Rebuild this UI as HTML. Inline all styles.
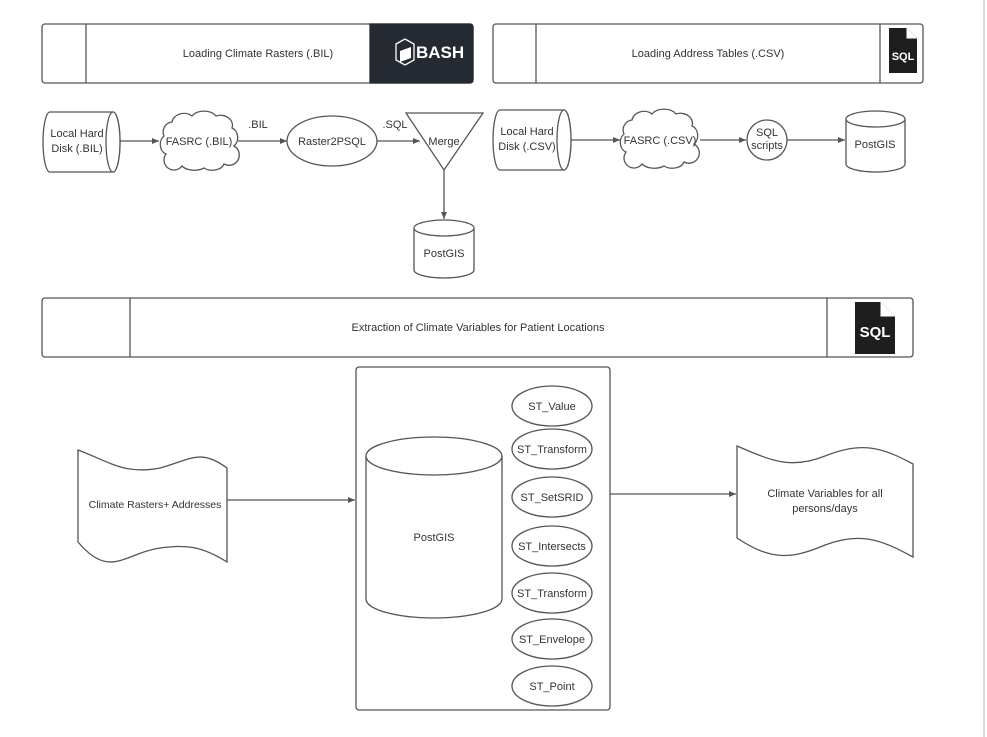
<!DOCTYPE html>
<html><head><meta charset="utf-8"><style>
html,body{margin:0;padding:0;background:#fff;}
svg{display:block;font-family:"Liberation Sans",Arial,sans-serif;}
text{fill:#333;font-size:11px;}
</style></head><body>
<svg width="987" height="737" viewBox="0 0 987 737" xmlns="http://www.w3.org/2000/svg">
<defs>
<marker id="a" markerWidth="8" markerHeight="8" refX="7" refY="4" orient="auto" markerUnits="userSpaceOnUse">
<path d="M0,1 L7,4 L0,7 Z" fill="#555"/></marker>
</defs>
<g stroke="#555" stroke-width="1.3" fill="#fff">
<line x1="984" y1="0" x2="984" y2="737" stroke="#bbb" stroke-width="1"/>
<rect x="42" y="24" width="431" height="59" rx="3"/>
<line x1="86" y1="24" x2="86" y2="83"/>
<path d="M370,24 H470 a3,3 0 0 1 3,3 V80 a3,3 0 0 1 -3,3 H370 Z" fill="#252a32" stroke="#252a32"/>
<rect x="493" y="24" width="430" height="59" rx="3"/>
<line x1="536" y1="24" x2="536" y2="83"/>
<line x1="880" y1="24" x2="880" y2="83"/>
<rect x="42" y="298" width="871" height="59" rx="3"/>
<line x1="130" y1="298" x2="130" y2="357"/>
<line x1="827" y1="298" x2="827" y2="357"/>
</g>
<g>
<path d="M396,44 L405,39 L414,44 L414,60 L405,65 L396,60 Z" fill="none" stroke="#fff" stroke-width="1.3"/>
<path d="M400,51 L411,47 L411,58 L400,62 Z" fill="#fff"/>
<text x="416" y="58" style="fill:#fff;font-size:17px;font-weight:bold">BASH</text>
</g>
<g>
<path d="M889,28 H907 L917,38 V73 H889 Z" fill="#1e1e1e"/>
<path d="M907,28 V38 H917" fill="#fff" stroke="#fff" stroke-width="1"/>
<text x="903" y="60" text-anchor="middle" style="fill:#fff;font-size:11px;font-weight:bold">SQL</text>
<path d="M855,302 H881 L895,316 V354 H855 Z" fill="#1e1e1e"/>
<path d="M881,302 V316 H895" fill="#fff" stroke="#fff" stroke-width="1"/>
<text x="875" y="337" text-anchor="middle" style="fill:#fff;font-size:15px;font-weight:bold">SQL</text>
</g>
<text x="258" y="57" text-anchor="middle">Loading Climate Rasters (.BIL)</text>
<text x="708" y="57" text-anchor="middle">Loading Address Tables (.CSV)</text>
<text x="478" y="331" text-anchor="middle">Extraction of Climate Variables for Patient Locations</text>

<g stroke="#555" stroke-width="1.3" fill="#fff">
<path d="M50,112 H113 A7,30 0 0 1 113,172 H50 A7,30 0 0 1 50,112 Z"/>
<ellipse cx="113" cy="142" rx="7" ry="30"/>
<path d="M172,122 a12,10 0 0 1 20,-6 a14,10 0 0 1 24,0 a12,10 0 0 1 16,12 a8,10 0 0 1 2,18 a10,10 0 0 1 -10,18 a12,8 0 0 1 -20,4 a14,8 0 0 1 -22,-2 a10,10 0 0 1 -16,-12 a8,10 0 0 1 -2,-18 a10,10 0 0 1 8,-14 Z"/>
<ellipse cx="332" cy="141" rx="45" ry="25"/>
<path d="M406,113 H483 L444,170 Z"/>
<path d="M414,228 A30,8 0 0 1 474,228 V270 A30,8 0 0 1 414,270 Z"/>
<path d="M414,228 A30,8 0 0 0 474,228"/>
<path d="M500,110 H564 A7,30 0 0 1 564,170 H500 A7,30 0 0 1 500,110 Z"/>
<ellipse cx="564" cy="140" rx="7" ry="30"/>
<path d="M632,120 a12,10 0 0 1 20,-6 a14,10 0 0 1 24,0 a12,10 0 0 1 16,12 a8,10 0 0 1 2,18 a10,10 0 0 1 -10,18 a12,8 0 0 1 -20,4 a14,8 0 0 1 -22,-2 a10,10 0 0 1 -16,-12 a8,10 0 0 1 -2,-18 a10,10 0 0 1 8,-14 Z"/>
<circle cx="767" cy="140" r="20"/>
<path d="M846,119 A29.5,8 0 0 1 905,119 V164 A29.5,8 0 0 1 846,164 Z"/>
<path d="M846,119 A29.5,8 0 0 0 905,119"/>
<g fill="none" marker-end="url(#a)">
<line x1="120" y1="141" x2="159" y2="141"/>
<line x1="238" y1="141" x2="287" y2="141"/>
<line x1="377" y1="141" x2="420" y2="141"/>
<line x1="444" y1="170" x2="444" y2="219"/>
<line x1="571" y1="140" x2="620" y2="140"/>
<line x1="700" y1="140" x2="746" y2="140"/>
<line x1="787" y1="140" x2="845" y2="140"/>
<line x1="227" y1="500" x2="355" y2="500"/>
<line x1="610" y1="494" x2="736" y2="494"/>
</g>
<rect x="356" y="367" width="254" height="343" rx="3"/>
<path d="M366,456 A68,19 0 0 1 502,456 V599 A68,19 0 0 1 366,599 Z"/>
<path d="M366,456 A68,19 0 0 0 502,456"/>
<path d="M78,450 C110,462 125,475 160,468 C190,460 200,448 227,468 V562 C200,545 185,545 160,548 C125,553 110,580 78,542 Z"/>
<path d="M737,446 C770,460 790,470 825,456 C860,442 880,446 913,464 V557 C880,539 860,532 825,545 C790,560 770,560 737,538 Z"/>
<ellipse cx="552" cy="406" rx="40" ry="20"/>
<ellipse cx="552" cy="449" rx="40" ry="20"/>
<ellipse cx="552" cy="497" rx="40" ry="20"/>
<ellipse cx="552" cy="546" rx="40" ry="20"/>
<ellipse cx="552" cy="593" rx="40" ry="20"/>
<ellipse cx="552" cy="639" rx="40" ry="20"/>
<ellipse cx="552" cy="686" rx="40" ry="20"/>
</g>
<g text-anchor="middle">
<text x="77" y="137">Local Hard</text><text x="77" y="152">Disk (.BIL)</text>
<text x="199" y="145">FASRC (.BIL)</text>
<text x="258" y="128">.BIL</text>
<text x="332" y="145">Raster2PSQL</text>
<text x="395" y="128">.SQL</text>
<text x="444" y="145">Merge</text>
<text x="444" y="257">PostGIS</text>
<text x="527" y="135">Local Hard</text><text x="527" y="150">Disk (.CSV)</text>
<text x="660" y="144">FASRC (.CSV)</text>
<text x="767" y="136">SQL</text><text x="767" y="149">scripts</text>
<text x="875" y="148">PostGIS</text>
<text x="434" y="541">PostGIS</text>
<text x="155" y="508" style="font-size:10.5px">Climate Rasters+ Addresses</text>
<text x="825" y="497">Climate Variables for all</text>
<text x="825" y="512">persons/days</text>
<text x="552" y="410">ST_Value</text>
<text x="552" y="453">ST_Transform</text>
<text x="552" y="501">ST_SetSRID</text>
<text x="552" y="550">ST_Intersects</text>
<text x="552" y="597">ST_Transform</text>
<text x="552" y="643">ST_Envelope</text>
<text x="552" y="690">ST_Point</text>
</g>
</svg>
</body></html>
